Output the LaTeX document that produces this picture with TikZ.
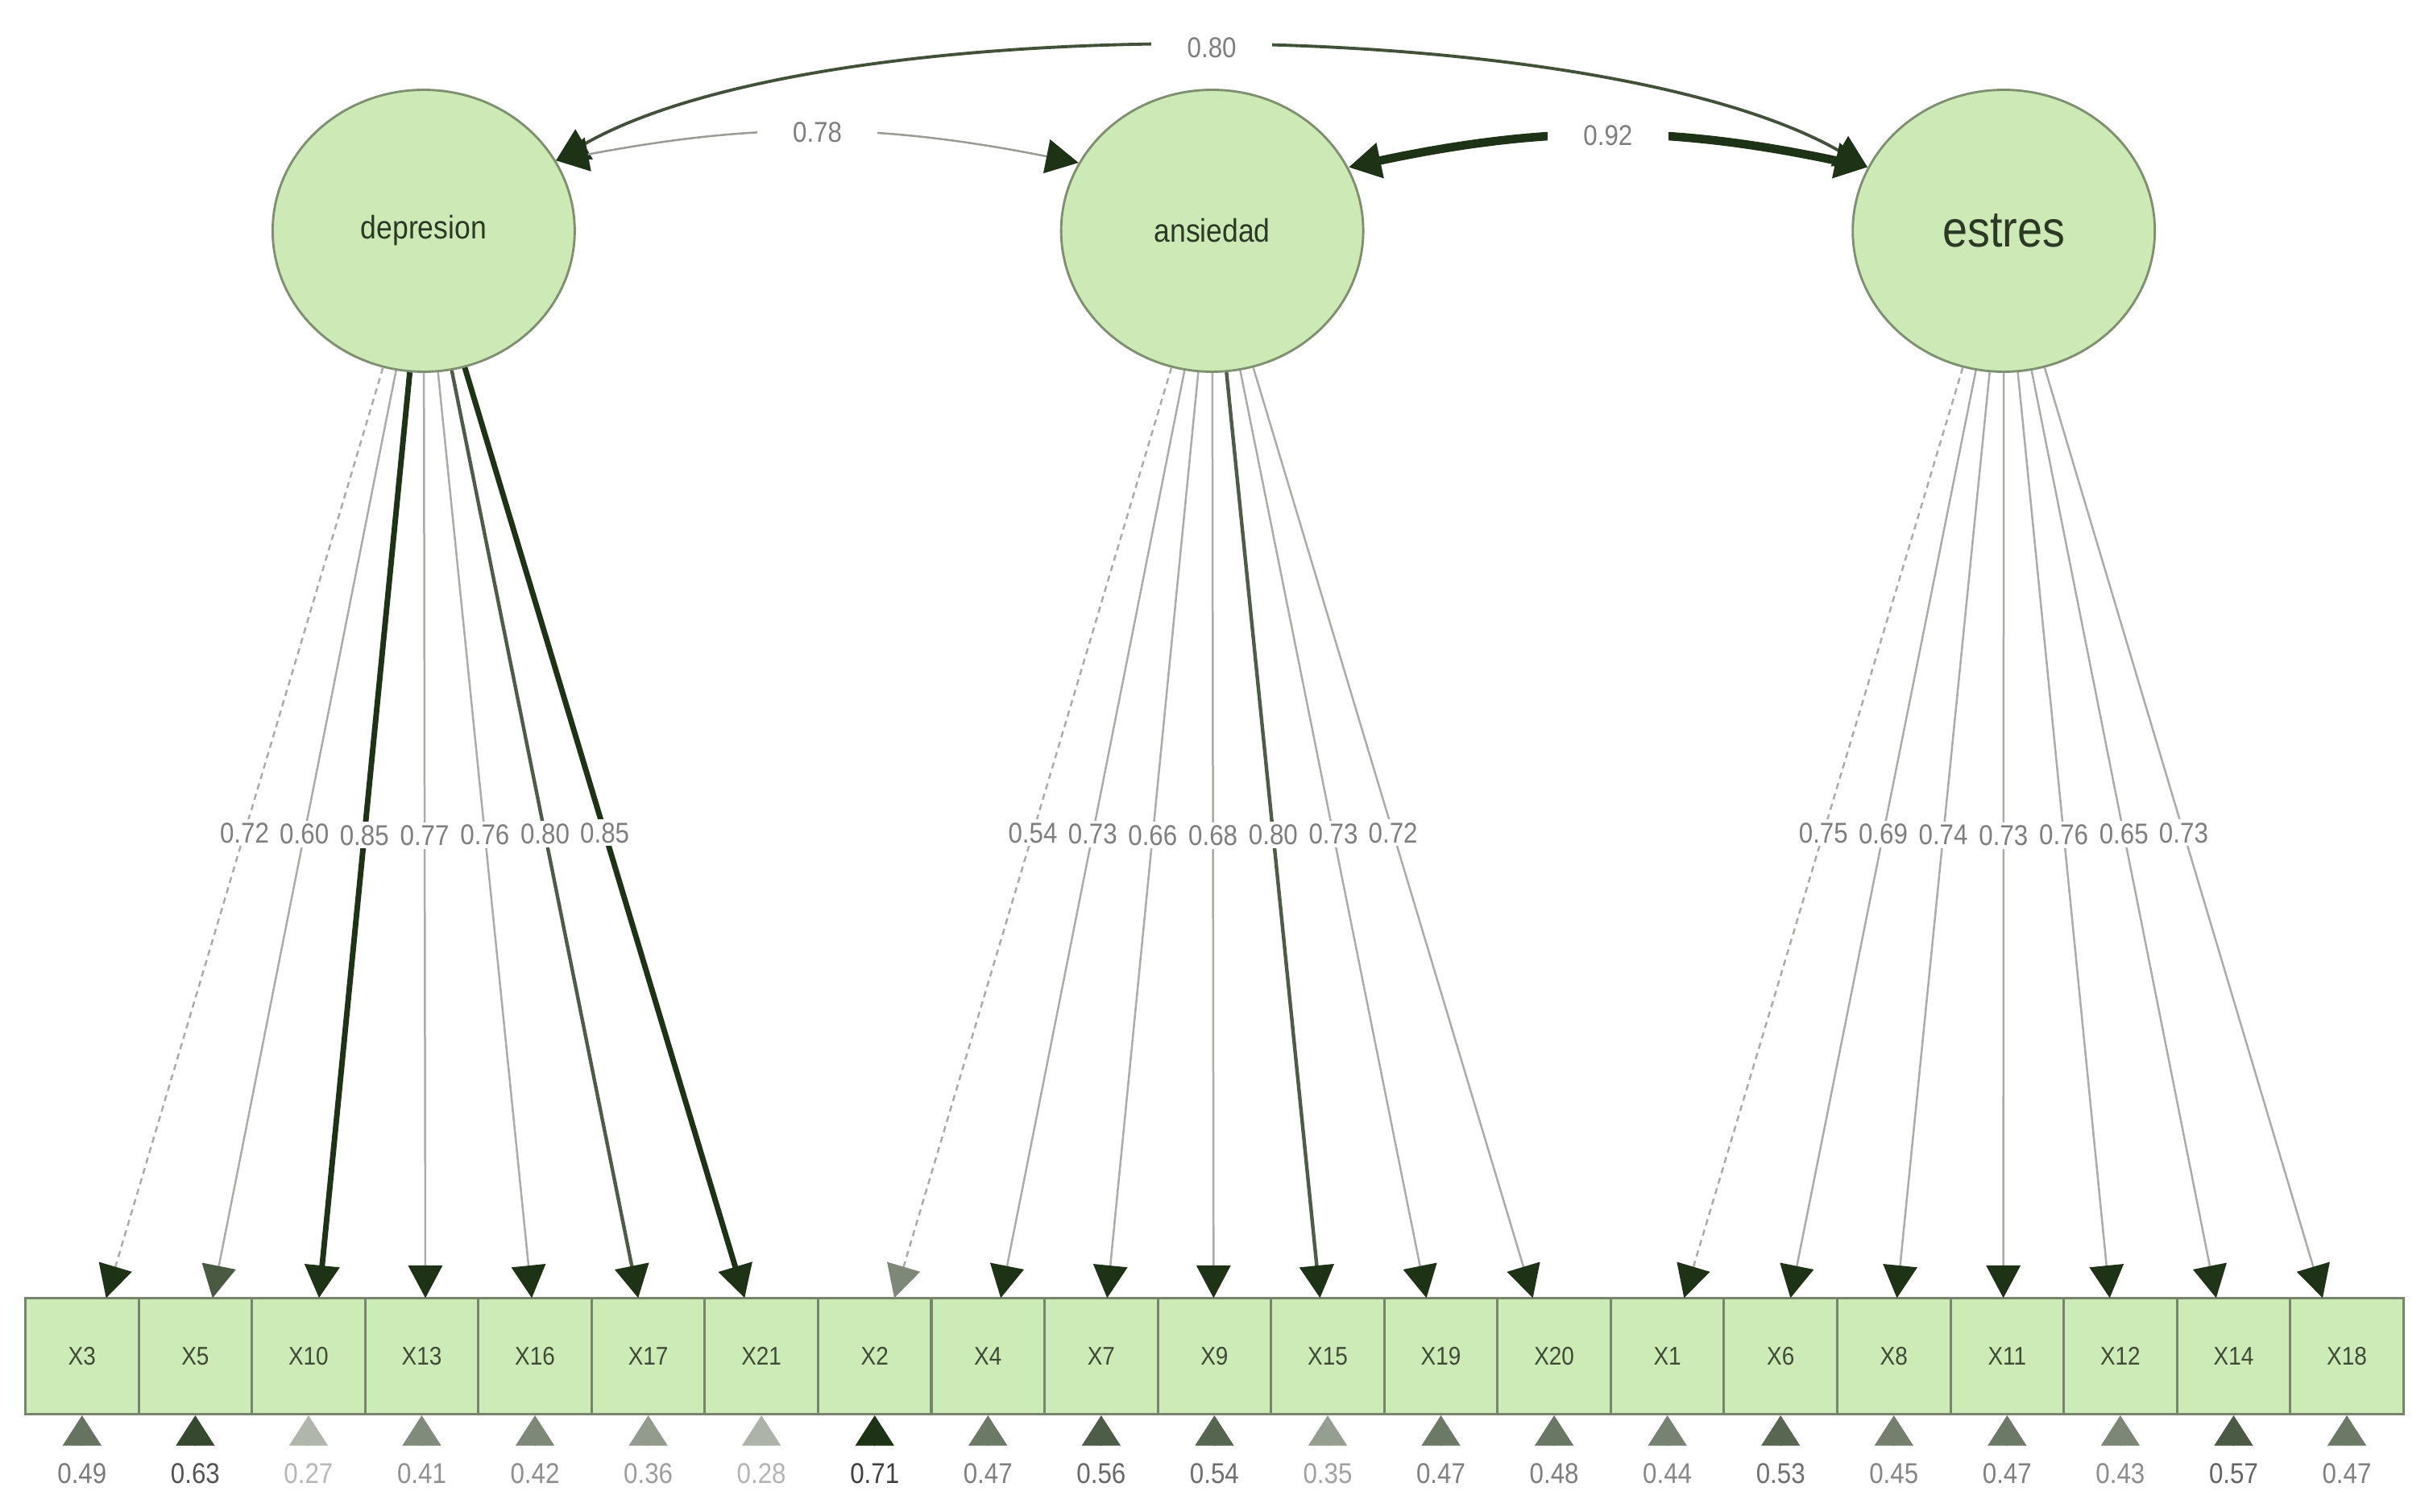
\documentclass[tikz,border=0pt]{standalone}
\usepackage{fontspec}
\setmainfont{Liberation Sans}
\newfontfamily\narrowfont[FakeStretch=0.88]{Liberation Sans}
\usetikzlibrary{arrows.meta,shapes.geometric,calc}

\definecolor{latfill}{HTML}{CDEAB6}
\definecolor{latdraw}{HTML}{7E9070}
\definecolor{boxfill}{HTML}{CDEBB6}
\definecolor{boxdraw}{HTML}{76856C}
\definecolor{darkedge}{HTML}{1E3216}
\definecolor{lightedge}{HTML}{A9ACA7}
\definecolor{fadedtip}{HTML}{C9CCC6}
\definecolor{labgray}{HTML}{7E7E7E}
\definecolor{labdark}{HTML}{404040}
\definecolor{labfade}{HTML}{CACACA}
\definecolor{boxtext}{HTML}{3E4C36}
\definecolor{lattext}{HTML}{2B3A24}

\tikzset{covtip/.tip={Triangle[length=21pt,width=22pt,color=darkedge]}}

\begin{document}
\begin{tikzpicture}[x=1pt,y=1pt,
  latent/.style={ellipse, draw=latdraw, fill=latfill, line width=1.5pt,
    minimum width=195pt, minimum height=182pt, inner sep=0pt, text=lattext,
    font=\narrowfont\fontsize{21}{24}\selectfont},
  obs/.style={rectangle, draw=boxdraw, fill=boxfill, line width=1.6pt,
    minimum width=73.1pt, minimum height=75pt, inner sep=0pt, text=boxtext,
    font=\narrowfont\fontsize{16.5}{18}\selectfont},
  loadlab/.style={fill=white, inner xsep=1.5pt, inner ysep=2pt, text=labgray,
    font=\narrowfont\fontsize{18.5}{20}\selectfont},
  covlab/.style={fill=white, inner xsep=23pt, inner ysep=7pt, text=labgray,
    font=\narrowfont\fontsize{18.5}{20}\selectfont},
  reslab/.style={inner sep=1pt, font=\narrowfont\fontsize{18.5}{20}\selectfont},
  dashload/.style={dash pattern=on 4pt off 3pt},
  solidload/.style={}
]
\useasboundingbox (0,0) rectangle (1568,-976);

% latent variables
\node[latent] (dep) at (273.5,-149) {depresion};
\node[latent] (ans) at (782.5,-149) {ansiedad};
\node[latent, font=\narrowfont\fontsize{33}{36}\selectfont] (est) at (1293.5,-149) {estres};

% observed variables
\foreach \n [count=\i from 0] in {X3,X5,X10,X13,X16,X17,X21,X2,X4,X7,X9,X15,X19,X20,X1,X6,X8,X11,X12,X14,X18}{
  \node[obs] (\n) at ({52.95+73.1*\i},-875.5) {\n};
}

% residual variances
\foreach \n/\r in {X3/0.49,X5/0.63,X10/0.27,X13/0.41,X16/0.42,X17/0.36,X21/0.28,X2/0.71,X4/0.47,X7/0.56,X9/0.54,X15/0.35,X19/0.47,X20/0.48,X1/0.44,X6/0.53,X8/0.45,X11/0.47,X12/0.43,X14/0.57,X18/0.47}{
  \pgfmathtruncatemacro\pp{min(100,max(0,(\r-0.2)*200))}
  \coordinate (r\n) at ($(\n.south)+(0,-19.5)$);
  \draw[line width=0.4pt, draw=darkedge!\pp!fadedtip,
    -{Triangle[length=19.5pt,width=25pt,color=darkedge!\pp!fadedtip]}] (r\n) -- (\n.south);
  \node[reslab, text=labdark!\pp!labfade] (l\n) at ($(\n.south)+(0,-37.5)$) {\r};
}

% loadings
\foreach \lat/\base/\items in {dep/274.6/{X3/0.72/dashload,X5/0.60/solidload,X10/0.85/solidload,X13/0.77/solidload,X16/0.76/solidload,X17/0.80/solidload,X21/0.85/solidload},
  ans/783.4/{X2/0.54/dashload,X4/0.73/solidload,X7/0.66/solidload,X9/0.68/solidload,X15/0.80/solidload,X19/0.73/solidload,X20/0.72/solidload},
  est/1293.2/{X1/0.75/dashload,X6/0.69/solidload,X8/0.74/solidload,X11/0.73/solidload,X12/0.76/solidload,X14/0.65/solidload,X18/0.73/solidload}}{
  \foreach \n/\v/\st [count=\j from 0] in \items {
    \pgfmathsetmacro\tx{\base+68.7*(\j-3)}
    \coordinate (t\n) at (\tx,-838);
    \pgfmathtruncatemacro\pp{\v>=0.78 ? min(100,(\v-0.7)*667) : 0}
    \pgfmathsetmacro\lw{\v>=0.83 ? 3.6 : (\v>=0.78 ? 2.3 : 1.3)}
    \pgfmathtruncatemacro\qq{min(100,max(0,(\v-0.45)*500))}
    \draw[\st, line width=\lw pt, draw=darkedge!\pp!lightedge,
      -{Triangle[length=21pt,width=22pt,color=darkedge!\qq!fadedtip]}]
      (\lat) -- (t\n) node[loadlab, pos=0.5] {\v};
  }
}

% covariances
\draw[line width=2pt, draw=darkedge!75!lightedge, covtip-covtip]
  (dep.28) .. controls +(30:200) and +(150:200) .. (est.155)
  node[covlab, pos=0.5] (c80) {0.80};
\draw[line width=1.3pt, draw=lightedge!90!black, covtip-covtip]
  (dep.28) to[bend left=11] node[covlab, pos=0.5] (c78) {0.78} (ans.153);
\draw[line width=5.5pt, draw=darkedge, covtip-covtip]
  (ans.25) to[bend left=12] node[covlab, pos=0.5] (c92) {0.92} (est.155);
\end{tikzpicture}
\end{document}
